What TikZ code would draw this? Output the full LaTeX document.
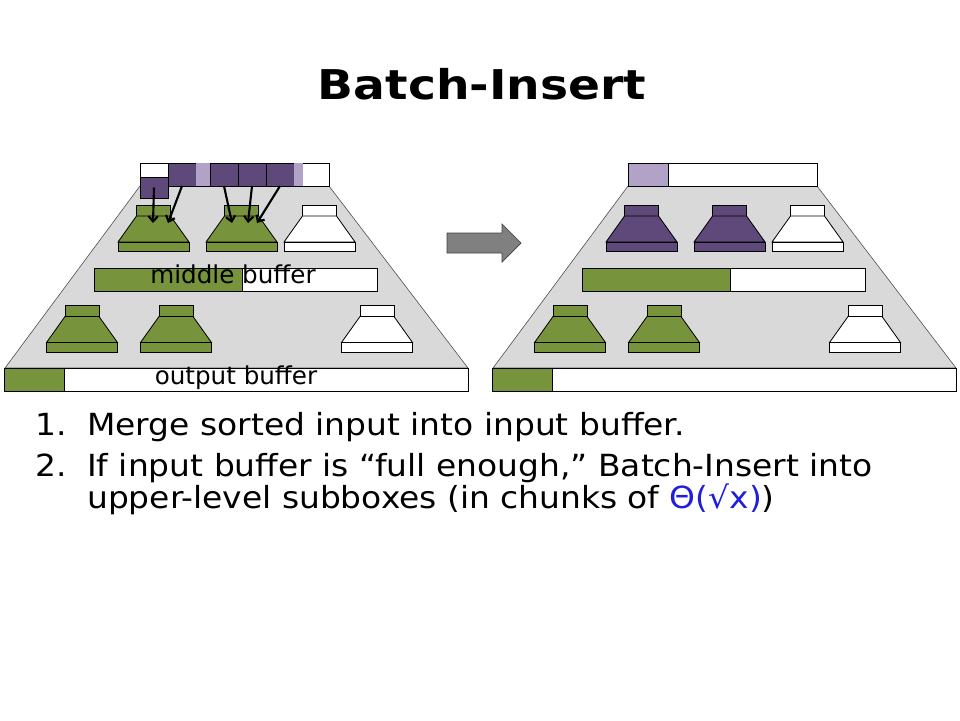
\documentclass[tikz,border=0pt]{standalone}
\usepackage{fontspec}
\setmainfont{DejaVu Sans}
\usetikzlibrary{arrows.meta, positioning, calc}

\definecolor{boxgreen}{RGB}{119,147,60}
\definecolor{boxpurple}{RGB}{95,73,122}
\definecolor{lightpurple}{RGB}{179,162,199}
\definecolor{cutgray}{RGB}{217,217,217}
\definecolor{arrowgray}{RGB}{128,128,128}
\definecolor{mathblue}{RGB}{30,30,220}

% one subbox: name, centre x, top y, fill
\newcommand{\subbox}[4]{%
  \coordinate (#1) at (#2,#3);
  \filldraw[part, fill=#4] ($(#1)+(-17,0)$) rectangle ($(#1)+(17,11)$);
  \filldraw[part, fill=#4] ($(#1)+(-17,11)$) -- ($(#1)+(17,11)$) -- ($(#1)+(35.5,37)$) -- ($(#1)+(-35.5,37)$) -- cycle;
  \filldraw[part, fill=#4] ($(#1)+(-35.5,37)$) rectangle ($(#1)+(35.5,46.5)$);
}

% the part both pictures share: prefix for names
\newcommand{\cutframe}[1]{%
  \filldraw[fill=cutgray, draw=black!70, line width=0.5pt] (140,186) -- (329,186) -- (468,368) -- (5,368) -- cycle;
  \filldraw[part, fill=white] (140,163) rectangle (329,186);
  \filldraw[part, fill=white] (94,268) rectangle (377,291);
  \filldraw[part, fill=boxgreen] (94,268) rectangle (242,291);
  \subbox{#1l1}{82}{305.5}{boxgreen}
  \subbox{#1l2}{176}{305.5}{boxgreen}
  \subbox{#1l3}{377}{305.5}{white}
  \subbox{#1u3}{319.5}{205}{white}
  \filldraw[part, fill=white] (4,368) rectangle (468,391);
  \filldraw[part, fill=boxgreen] (4,368) rectangle (64,391);
}

% body text is set a little wide
\newcommand{\wide}[1]{\scalebox{1.08}[1]{#1}}

\begin{document}
\begin{tikzpicture}[
  x=0.03cm, y=-0.03cm,
  part/.style={line width=0.7pt, draw=black},
  cell/.style={draw, line width=0.7pt, fill=boxpurple, minimum width=0.84cm, minimum height=0.69cm, inner sep=0pt, outer sep=0pt},
  gapcell/.style={fill=lightpurple, minimum height=0.69cm, inner sep=0pt, outer sep=0pt},
  push/.style={-{Straight Barb[length=4.5pt, width=8pt]}, line width=1.8pt},
  label/.style={font=\fontsize{21}{23}\selectfont, anchor=base, inner sep=0pt},
  body/.style={font=\fontsize{26}{28}\selectfont, anchor=base west, inner sep=0pt},
]
\useasboundingbox (0,0) rectangle (960,720);

\node[anchor=base, inner sep=0pt] (title) at (482,99) {\scalebox{1.15}[1]{\fontsize{35}{38}\bfseries\selectfont Batch-Insert}};

% before
\begin{scope}
\cutframe{b}
\subbox{bu1}{153.5}{205}{boxgreen}
\subbox{bu2}{241.5}{205}{boxgreen}
\node[cell, anchor=north west] (in1) at (168,163) {};
\node[gapcell, minimum width=0.42cm, right=0pt of in1] (gap1) {};
\node[cell, right=0pt of gap1] (in2) {};
\node[cell, right=0pt of in2] (in3) {};
\node[cell, right=0pt of in3] (in4) {};
\node[gapcell, minimum width=0.27cm, right=0pt of in4] (gap2) {};
\node[cell, minimum height=0.63cm, anchor=north west] (in0) at (140,177) {};
\node[label] (mid) at (233,283) {middle buffer};
\node[label] (out) at (236,384) {output buffer};
\coordinate (a0) at (153,223);
\coordinate (a1) at (168,223);
\coordinate (a2) at (232,223);
\coordinate (a3) at (248,223);
\coordinate (a4) at (257,223);
\draw[push] (in0.center) -- (a0);
\draw[push] (in1.south) -- (a1);
\draw[push] (in2.south) -- (a2);
\draw[push] (in3.south) -- (a3);
\draw[push] (in4.south) -- (a4);
\end{scope}

% the step arrow
\filldraw[fill=arrowgray, draw=black!75, line width=0.6pt] (447,233) -- (502,233) -- (502,224) -- (521,243) -- (502,262) -- (502,253) -- (447,253) -- cycle;

% after
\begin{scope}[xshift=14.64cm]
\cutframe{a}
\subbox{au1}{153.5}{205}{boxpurple}
\subbox{au2}{241.5}{205}{boxpurple}
\filldraw[part, fill=lightpurple] (140,163) rectangle (180,186);
\end{scope}

\node[body] (n1) at (35,435) {\wide{1.}};
\node[body] (l1) at (87,435) {\wide{Merge sorted input into input buffer.}};
\node[body] (n2) at (35,476) {\wide{2.}};
\node[body] (l2) at (87,476) {\wide{If input buffer is “full enough,” Batch-Insert into}};
\node[body] (l3) at (87,508) {\wide{upper-level subboxes (in chunks of \textcolor{mathblue}{Θ(√x)})}};
\end{tikzpicture}
\end{document}
